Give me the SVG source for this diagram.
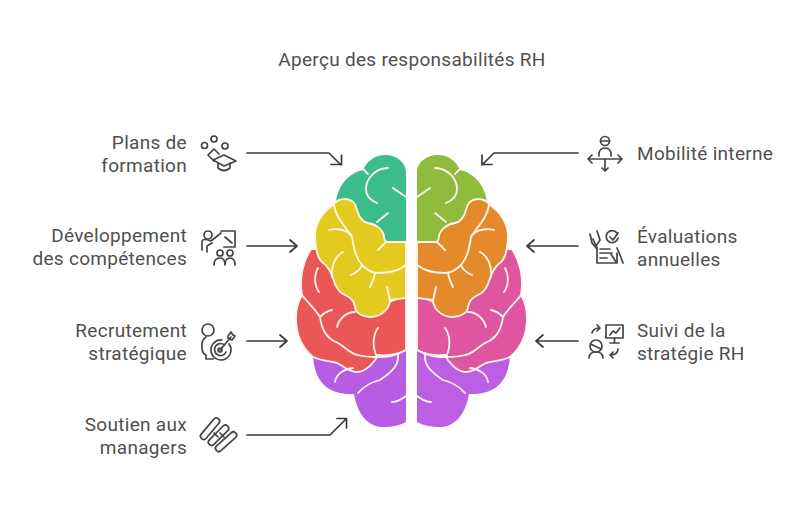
<svg xmlns="http://www.w3.org/2000/svg" width="800" height="507" viewBox="0 0 800 507">
<style>
text{font-family:Roboto,"Liberation Sans",sans-serif;font-size:19px;letter-spacing:.3px;fill:#505050}
.r{text-anchor:end}
.c{text-anchor:middle}
.ln{fill:none;stroke:#3a3a3a;stroke-width:1.7;stroke-linecap:round;stroke-linejoin:round}
.ic{fill:none;stroke:#444;stroke-width:1.7;stroke-linecap:round;stroke-linejoin:round}
.f{fill:none;stroke:#fff6ec;stroke-width:1.8;stroke-linecap:round;stroke-linejoin:round}
.b{stroke:#fff6ec;stroke-width:1.8}
</style>
<defs>
<path id="lgreen" d="M406,245V172C406,162 396,155 385,155C375,155 367,161 363,170C349,173 338,185 336,202L385,245Z"/>
<path id="lpurple" d="M406,345V422C399,426 391,427 383,427C370,427 358,417 354,394C348,394 344,394 340,393C326,390 314,380 313,355L370,345Z"/>
<path id="lred" d="M406,295V350C398,354 388,356 378,355C375,362 366,372 357,372C348,372 344,366 337,363C328,361 319,360 313,357C301,347 296,333 296,318C296,308 299,300 302,295C299,278 303,260 312,248L345,260L370,310Z"/>
<path id="lyellow" d="M406,242V298L390,300C390,306 384,317 370,317C362,317 355,312 355,307C354,300 350,297 345,295C338,292 337,288 335,284C331,272 328,266 322,262C317,258 315,245 315,235C316,222 323,212 333,205C336,201 340,199 345,199C352,199 356,204 357,210C359,217 362,222 368,223C376,224 383,230 384,236C384,239 385,241 387,242Z"/>
<g id="lfolds" class="f">
<path d="M388,168C376,168 366,178 366,189C366,197 372,201 377,203M363,169L368,174M393,188L406,197M377,222L388,213"/>
<path d="M334,205C336,219 347,228 352,237C354,250 356,258 362,265C367,270 372,273 378,273C388,273 397,272 406,265"/>
<path d="M329,230C335,228 348,229 352,237M343,252C335,256 331,266 332,277M362,265C360,270 356,273 351,275M375,273C374,279 372,283 370,287M378,250L386,242M387,287C388,292 389,296 390,300"/>
<path d="M318,268C314,275 314,285 319,292M302,295C308,303 316,310 320,317C322,332 328,339 338,343C344,346 350,354 358,355C365,357 372,357 377,357C385,358 398,355 406,350"/>
<path d="M332,310C327,311 324,313 321,316M355,312C346,312 339,319 337,327M378,328C374,333 371,345 377,357"/>
<path d="M335,382C336,374 344,369 353,368M398,355C399,365 392,372 380,380C372,382 364,386 358,393M392,402C397,402 402,399 406,396"/>
</g>
</defs>
<text class="c" x="412" y="66">Aperçu des responsabilités RH</text>
<g id="brain">
<g id="brain-left">
<use href="#lgreen" fill="#3dbd8b"/>
<use href="#lpurple" fill="#b75de3"/>
<use href="#lred" fill="#eb5656" class="b"/>
<use href="#lyellow" fill="#e4c91f" class="b"/>
<use href="#lfolds"/>
</g>
<g id="brain-right" transform="matrix(-1 0 0 1 823 0)">
<use href="#lgreen" fill="#8fbc3d"/>
<use href="#lpurple" fill="#bd5fe2"/>
<use href="#lred" fill="#e0559f" class="b"/>
<use href="#lyellow" fill="#e58a2c" class="b"/>
<use href="#lfolds"/>
</g>
</g>
<g id="connectors" class="ln">
<path d="M247,153H329L341,165M341.500,155V164.500H331"/>
<path d="M247,246H297M290,240L297,246L290,252"/>
<path d="M247,341H287M280,335L287,341L280,347"/>
<path d="M247,435H330L346,419M337,418.500H346.500V428"/>
<path d="M578,153H494L482,165M482,155V164.500H492"/>
<path d="M578,246H527M534,240L527,246L534,252"/>
<path d="M578,341H536M543,335L536,341L543,347"/>
</g>
<g id="node-plans">
<text class="r" x="187" y="149">Plans de</text><text class="r" x="187" y="172">formation</text>
<g class="ic"><circle cx="204.500" cy="145.500" r="3"/><circle cx="214" cy="139" r="3"/><circle cx="225" cy="146" r="3"/><path d="M208,155L214,149L219,154M208,155L214,161"/><path d="M224,155L236,161L224,166L213,160Z"/><path d="M218,163V168Q224,173 230,168V163"/></g>
</g>
<g id="node-competences">
<text class="r" x="187" y="242">Développement</text><text class="r" x="187" y="265">des compétences</text>
<g class="ic"><circle cx="208" cy="235" r="4"/><path d="M202,250V241Q203,238 211,241L221,233M207,246L212,243M207,246V252"/><path d="M221,231H235V247H224M225,237L232,243"/><circle cx="220" cy="253" r="3"/><circle cx="230" cy="253" r="3"/><path d="M214,265Q214,258 220,258Q225,258 225,265Q225,258 230,258Q235,258 235,265"/></g>
</g>
<g id="node-recrutement">
<text class="r" x="187" y="337">Recrutement</text><text class="r" x="187" y="360">stratégique</text>
<g class="ic"><circle cx="208" cy="330" r="6"/><path d="M206,337Q201,340 202,348Q202,353 206,355V359H213"/><path d="M229,344A10,10 0 1 1 222,340M224.500,345A6,6 0 1 0 226,352"/><circle cx="220" cy="350" r="2"/><path d="M220,350L231,337M228,336L231,332L233,335L235,336L232,340L228,338Z"/></g>
</g>
<g id="node-soutien">
<text class="r" x="187" y="431">Soutien aux</text><text class="r" x="187" y="454">managers</text>
<g class="ic"><rect x="197" y="425.500" width="26" height="6.500" rx="3.200" transform="rotate(-50 210 428.700)"/><rect x="205.500" y="432" width="26" height="6.500" rx="3.200" transform="rotate(-45 218.500 435.200)"/><rect x="213" y="438.500" width="26" height="6.500" rx="3.200" transform="rotate(-42 226 441.700)"/><path d="M214,433L218,437M220,433L224,437"/></g>
</g>
<g id="node-mobilite">
<text x="637" y="160">Mobilité interne</text>
<g class="ic"><circle cx="605" cy="141" r="4.500"/><path d="M600.500,141H609.500M599,156V153Q600,148 605,148Q610,148 611,153V156"/><path d="M589,159H622M592,155L588,159L592,163M618,155L622,159L618,163M605,159V171M602,168L605,171L608,168"/></g>
</g>
<g id="node-evaluations">
<text x="637" y="243">Évaluations</text><text x="637" y="266">annuelles</text>
<g class="ic"><path d="M617,233A6,6 0 1 0 618,238M610,237L613,240L618,233"/><path d="M597,247V263H617V253M600,249H610M600,253H612M600,258H607"/><path d="M590,234L592,243L597,249M597,231L600,240L596,246L593,239"/><path d="M617,248L620,255L623,263M611,254L616,262"/></g>
</g>
<g id="node-suivi">
<text x="637" y="337">Suivi de la</text><text x="637" y="360">stratégie RH</text>
<g class="ic"><rect x="606" y="325" width="17" height="13"/><path d="M610,335L613,331L616,333L620,328M614.500,338V343M610,343H619"/><path d="M592,333Q593,328 600,328M597,325L600,328L597,331"/><circle cx="596" cy="346" r="6"/><path d="M590.500,344L601,349M589,358Q589,352 596,352Q603,352 603,358"/><path d="M618,349Q618,355 610,355M613,352L610,355L613,358"/></g>
</g>
</svg>
